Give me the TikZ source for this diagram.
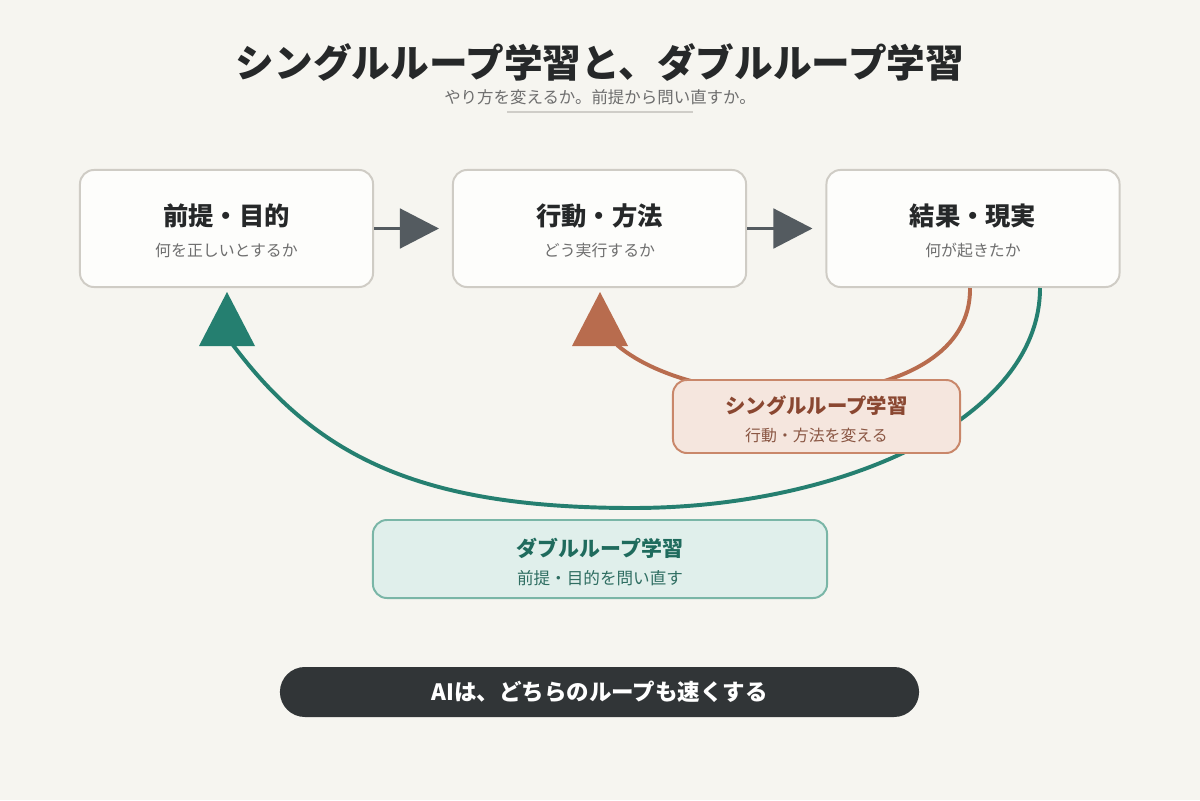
\documentclass[tikz,border=0pt]{standalone}
\usepackage{fontspec}
\setmainfont{Noto Sans CJK JP}
\usetikzlibrary{arrows.meta,calc}
\definecolor{bg}{HTML}{F6F5F0}
\definecolor{boxfill}{HTML}{FDFDFB}
\definecolor{boxborder}{HTML}{CFCCC5}
\definecolor{darktext}{HTML}{262829}
\definecolor{subtext}{HTML}{6E6E6E}
\definecolor{arrowgray}{HTML}{545B60}
\definecolor{tealc}{HTML}{257F70}
\definecolor{orangec}{HTML}{B86C4E}
\definecolor{singlefill}{HTML}{F5E6DE}
\definecolor{singleborder}{HTML}{C9876A}
\definecolor{singletitle}{HTML}{8A4731}
\definecolor{singlesub}{HTML}{8A5643}
\definecolor{doublefill}{HTML}{E0EFEB}
\definecolor{doubleborder}{HTML}{7AB6A7}
\definecolor{doubletitle}{HTML}{1F6B5D}
\definecolor{doublesub}{HTML}{2F6E62}
\definecolor{pillc}{HTML}{313537}
\definecolor{underl}{HTML}{CFCDC8}
\tikzset{
  stepbox/.style={draw=boxborder, fill=boxfill, line width=1.4pt, rounded corners=0.35cm,
    minimum width=7.325cm, minimum height=2.925cm, inner sep=0pt},
  boxtitle/.style={font=\fontsize{18}{20}\selectfont\bfseries, text=darktext, inner sep=0pt},
  boxsub/.style={font=\fontsize{11.3}{13}\selectfont, text=subtext, inner sep=0pt},
  flowarrow/.style={draw=arrowgray, line width=2.1pt, -{Triangle[length=0.975cm, width=0.99cm]}, shorten >=0.325cm},
  loopline/.style={line width=2.8pt},
  singlebox/.style={draw=singleborder, fill=singlefill, line width=1.4pt, rounded corners=0.35cm,
    minimum width=7.175cm, minimum height=1.825cm, inner sep=0pt},
  doublebox/.style={draw=doubleborder, fill=doublefill, line width=1.4pt, rounded corners=0.35cm,
    minimum width=11.35cm, minimum height=1.95cm, inner sep=0pt},
}
\begin{document}
\begin{tikzpicture}[x=0.025cm, y=-0.025cm]
\fill[bg] (0,0) rectangle (1200,800);
\useasboundingbox (0,0) rectangle (1200,800);

% title
\node[font=\fontsize{27.5}{30}\selectfont\bfseries, text=darktext, inner sep=0pt] (title) at (600,62) {シングルループ学習と、ダブルループ学習};
\node[font=\fontsize{11.7}{13}\selectfont, text=subtext, inner sep=0pt] (subtitle) at (600,97.5) {やり方を変えるか。前提から問い直すか。};
\coordinate (ul1) at (507,112);
\coordinate (ul2) at (693,112);
\draw[underl, line width=2.1pt] (ul1) -- (ul2);

% main boxes
\node[stepbox] (b1) at (226.5,228.5) {};
\node[stepbox] (b2) at (599.5,228.5) {};
\node[stepbox] (b3) at (973,228.5) {};
\node[boxtitle] (t1) at (226.5,216) {前提・目的};
\node[boxsub] (s1) at (226.5,250) {何を正しいとするか};
\node[boxtitle] (t2) at (599.5,216) {行動・方法};
\node[boxsub] (s2) at (599.5,250) {どう実行するか};
\node[boxtitle] (t3) at (973,216) {結果・現実};
\node[boxsub] (s3) at (973,250) {何が起きたか};

\draw[flowarrow] (b1.east) -- (b2.west);
\draw[flowarrow] (b2.east) -- (b3.west);

% loops
\coordinate (os) at ($(b3.south)+(-3,0)$);
\coordinate (oe) at (617,345);
\coordinate (ts) at ($(b3.south)+(67,0)$);
\coordinate (tm) at (633,508);
\coordinate (te) at (233,345);
\draw[orangec, loopline] (os) .. controls (972,415) and (705,420) .. (oe);
\draw[tealc, loopline] (ts) .. controls (1040,420) and (840,508) .. (tm)
   .. controls (420,508) and (317,457) .. (te);
\fill[orangec] (600,292) -- (628,346) -- (572,346) -- cycle;
\fill[tealc] (227,292) -- (255,346) -- (199,346) -- cycle;

% loop labels
\node[singlebox] (sl) at (816.5,416.5) {};
\node[font=\fontsize{14.5}{16}\selectfont\bfseries, text=singletitle, inner sep=0pt] (slt) at (816.5,406) {シングルループ学習};
\node[font=\fontsize{11.3}{13}\selectfont, text=singlesub, inner sep=0pt] (sls) at (816.5,435) {行動・方法を変える};

\node[doublebox] (dl) at (600,559) {};
\node[font=\fontsize{14.9}{16}\selectfont\bfseries, text=doubletitle, inner sep=0pt] (dlt) at (600,548) {ダブルループ学習};
\node[font=\fontsize{11.8}{13}\selectfont, text=doublesub, inner sep=0pt] (dls) at (600,578) {前提・目的を問い直す};

% bottom pill
\node[fill=pillc, rounded corners=0.625cm, minimum width=15.975cm, minimum height=1.25cm, inner sep=0pt,
  font=\fontsize{16}{18}\selectfont\bfseries, text=white] (pill) at (599.5,692) {AIは、どちらのループも速くする};
\end{tikzpicture}
\end{document}
